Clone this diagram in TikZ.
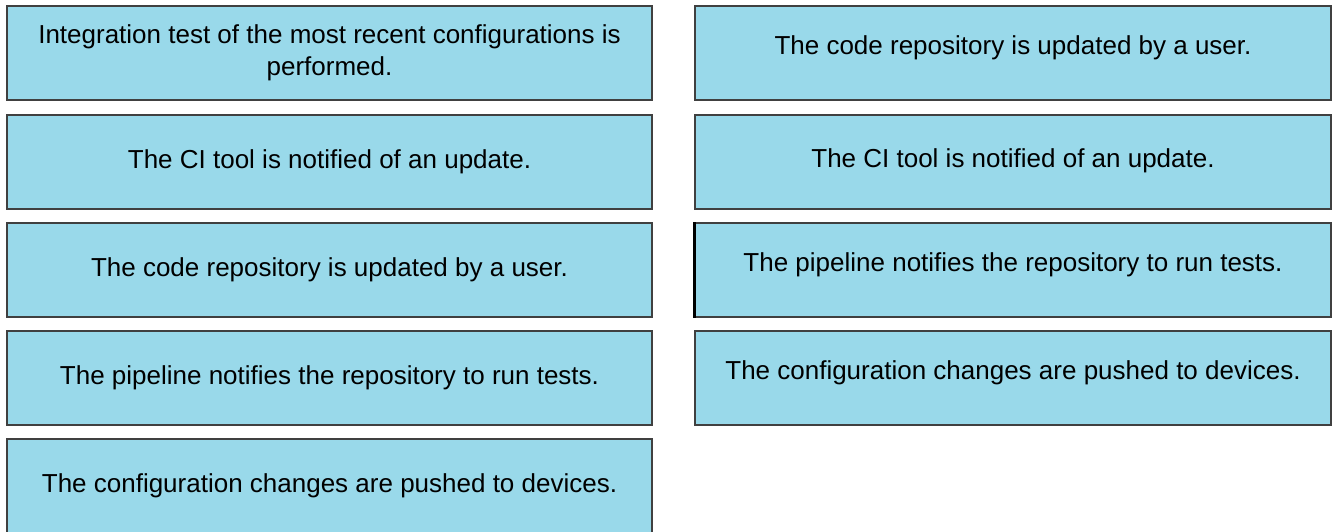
\documentclass[tikz,border=0pt]{standalone}
\usepackage{fontspec}
\setmainfont{Liberation Sans}
\usetikzlibrary{positioning}
\definecolor{cardblue}{RGB}{153,217,234}
\definecolor{carddark}{RGB}{64,64,64}

\begin{document}
\begin{tikzpicture}[x=1pt, y=-1pt,
    card/.style={draw=carddark, line width=2pt, fill=cardblue, minimum height=94pt,
        align=center, font=\fontsize{26}{32}\selectfont, inner sep=0pt},
    leftcard/.style={card, minimum width=645pt},
    rightcard/.style={card, minimum width=636pt, text depth=15.5pt}]
\useasboundingbox (0,0) rectangle (1334,531);

% Left column
\node[leftcard] (l1) at (329.5,53) {Integration test of the most recent configurations is\\performed.};
\node[leftcard] (l2) at (329.5,162) {The CI tool is notified of an update.};
\node[leftcard] (l3) at (329.5,270) {The code repository is updated by a user.};
\node[leftcard] (l4) at (329.5,378) {The pipeline notifies the repository to run tests.};
\node[leftcard] (l5) at (329.5,486) {The configuration changes are pushed to devices.};

% Right column
\node[rightcard] (r1) at (1013,53) {The code repository is updated by a user.};
\node[rightcard, text depth=8pt] (r2) at (1013,162) {The CI tool is notified of an update.};
\node[rightcard] (r3) at (1013,270) {The pipeline notifies the repository to run tests.};
\node[rightcard] (r4) at (1013,378) {The configuration changes are pushed to devices.};

% darker left edge
\draw[black, line width=3pt] (r3.north west) -- (r3.south west);

\end{tikzpicture}
\end{document}
